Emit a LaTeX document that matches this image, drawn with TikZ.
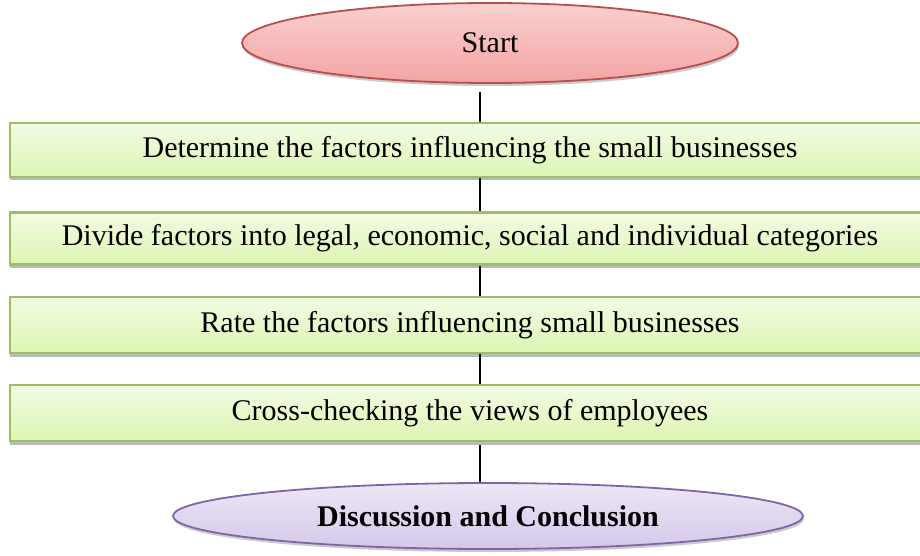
\documentclass[tikz,border=0pt]{standalone}
\usepackage{fontspec}
\setmainfont{Liberation Serif}
\usetikzlibrary{shapes.geometric,shadows}

\definecolor{boxtop}{HTML}{F2FCE4}
\definecolor{boxbot}{HTML}{DCF5B2}
\definecolor{boxline}{HTML}{9DBF62}
\definecolor{pinktop}{HTML}{FAD0D0}
\definecolor{pinkbot}{HTML}{F4A4A4}
\definecolor{pinkline}{HTML}{B5504C}
\definecolor{lilactop}{HTML}{EDE7F6}
\definecolor{lilacbot}{HTML}{D4C8EA}
\definecolor{lilacline}{HTML}{7E65A6}

\begin{document}
\begin{tikzpicture}[x=1pt, y=-1pt,
    stepbox/.style={draw=boxline, line width=2.2pt, rectangle, top color=boxtop, bottom color=boxbot,
        minimum width=920pt, minimum height=54pt, inner sep=0pt, font=\fontsize{30}{32}\selectfont,
        drop shadow={shadow xshift=0pt, shadow yshift=-3.5pt, opacity=0.45, fill=black!60}},
    oval/.style={draw, line width=1.8pt, ellipse, inner sep=0pt, font=\fontsize{30}{32}\selectfont,
        drop shadow={shadow xshift=1pt, shadow yshift=-3pt, opacity=0.35, fill=black!60}},
    link/.style={line width=2pt, black}]
    \clip (0,0) rectangle (920,556);

    % Start
    \node[oval, draw=pinkline, top color=pinktop, bottom color=pinkbot,
        minimum width=496pt, minimum height=80pt] (start) at (490,43) {Start};

    % Steps
    \node[stepbox] (determine) at (470,150) {Determine the factors influencing the small businesses};
    \node[stepbox, minimum height=52pt] (divide) at (470,238.5) {Divide factors into legal, economic, social and individual categories};
    \node[stepbox, minimum height=56pt] (rate) at (470,325) {Rate the factors influencing small businesses};
    \node[stepbox, minimum height=56pt] (crosscheck) at (470,413) {Cross-checking the views of employees};

    % End
    \node[oval, draw=lilacline, top color=lilactop, bottom color=lilacbot,
        minimum width=630pt, minimum height=66pt] (conclusion) at (488,516) {\textbf{Discussion and Conclusion}};

    % Links
    \coordinate (axis) at (480,0);
    \draw[link, shorten <=8pt] (axis |- start.south) -- (axis |- determine.north);
    \draw[link] (axis |- determine.south) -- (axis |- divide.north);
    \draw[link] (axis |- divide.south) -- (axis |- rate.north);
    \draw[link] (axis |- rate.south) -- (axis |- crosscheck.north);
    \draw[link, shorten <=3pt] (axis |- crosscheck.south) -- (axis |- conclusion.north);
\end{tikzpicture}
\end{document}
